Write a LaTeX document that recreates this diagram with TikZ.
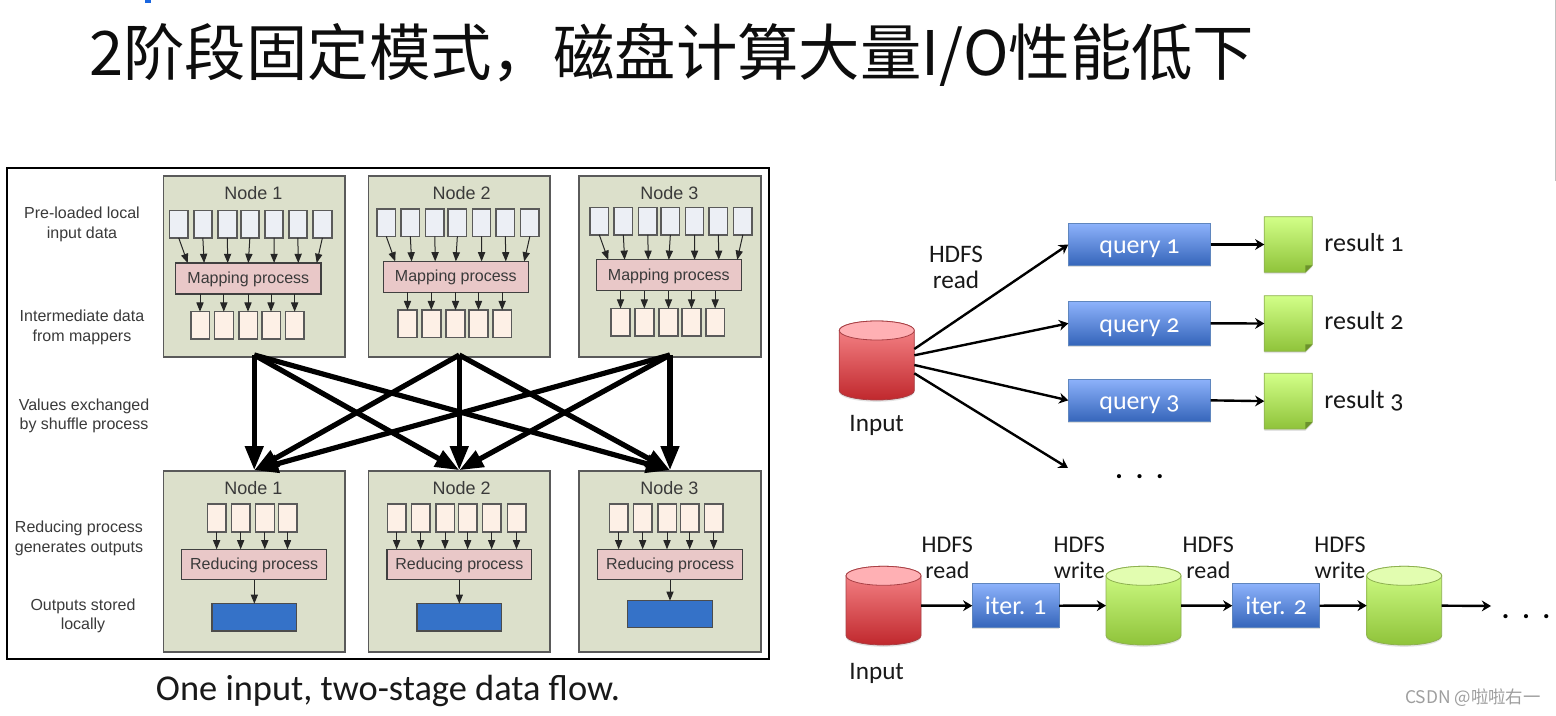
\documentclass[tikz,border=0pt]{standalone}
\usepackage{fontspec}
\usetikzlibrary{arrows.meta,shadows,calc}
\setmainfont{Liberation Sans}
\newfontfamily\corbel[Numbers=OldStyle]{Carlito}
\newfontfamily\cjk{Noto Sans CJK SC}
\definecolor{markblue}{HTML}{1A66E0}
\definecolor{panelfill}{HTML}{DCE0CB}
\definecolor{inkline}{HTML}{5A5A5A}
\definecolor{inkfill}{HTML}{ECEFF5}
\definecolor{midfill}{HTML}{FDF0E6}
\definecolor{procfill}{HTML}{E9C8C8}
\definecolor{outfill}{HTML}{3572C8}
\definecolor{labelgray}{HTML}{3A3A3A}
\definecolor{bluetop}{HTML}{8DB2FB}
\definecolor{bluebot}{HTML}{3565BA}
\definecolor{blueedge}{HTML}{5F86BE}
\definecolor{greentop}{HTML}{D2FF88}
\definecolor{greenbot}{HTML}{8FC33A}
\definecolor{greenedge}{HTML}{8DB050}
\definecolor{greencap}{HTML}{E2FDB0}
\definecolor{redtop}{HTML}{F98A8D}
\definecolor{redbot}{HTML}{C0282D}
\definecolor{redcap}{HTML}{FFB0B4}
\definecolor{rededge}{HTML}{A84045}
\tikzset{
  panel/.style={draw=inkline,fill=panelfill,line width=.6pt},
  inbox/.style={draw=inkline,fill=inkfill,line width=.8pt},
  midbox/.style={draw=inkline,fill=midfill,line width=.8pt},
  procbox/.style={draw=black!75,fill=procfill,line width=.6pt,text=labelgray,text height=4.8pt,text depth=0pt,font=\fontsize{8}{9.7}\selectfont},
  outbox/.style={draw=black!70,fill=outfill,line width=.6pt},
  sidelabel/.style={align=center,text=labelgray,font=\fontsize{8}{9.75}\selectfont,inner sep=0pt},
  nodetitle/.style={text=labelgray,font=\fontsize{9}{10}\selectfont,inner sep=0pt},
  smallarrow/.style={draw=black!85,line width=.5pt,-{Triangle[width=3.6pt,length=4.6pt]}},
  bigarrow/.style={draw=black,line width=2.6pt,-{Triangle[width=8.8pt,length=12pt]}},
  flowarrow/.style={draw=black,line width=1.2pt,-{Stealth[width=5.4pt,length=4.6pt,inset=1.5pt]}},
  taskbox/.style={draw=blueedge,line width=.4pt,top color=bluetop,bottom color=bluebot,text=white,text height=8.8pt,text depth=0pt,
     drop shadow={shadow xshift=0pt,shadow yshift=-.8pt,opacity=.25},font=\corbel\fontsize{13}{14}\selectfont},
  hollow/.style={inner sep=0pt},
  softshadow/.style={drop shadow={shadow xshift=0pt,shadow yshift=-.9pt,opacity=.22}},
  rtext/.style={inner sep=0pt,align=center,font=\corbel\fontsize{12.6}{13.4}\selectfont,text=black!90},
  rlow/.style={inner sep=0pt,align=center,font=\corbel\fontsize{12}{13.2}\selectfont,text=black!90},
  rres/.style={inner sep=0pt,font=\corbel\fontsize{13}{14}\selectfont,text=black!90},
  dotrow/.style={inner sep=0pt,font=\corbel\bfseries\fontsize{14}{14}\selectfont},
}
\newcommand{\pbox}[7]{%
  \pgfmathsetmacro\bxw{((#5)-(#3))*0.5}%
  \pgfmathsetmacro\bxh{((#6)-(#4))*0.5}%
  \pgfmathsetmacro\bxx{((#3)+(#5))/2}%
  \pgfmathsetmacro\bxy{((#4)+(#6))/2}%
  \node[#1,minimum width=\bxw pt,minimum height=\bxh pt,inner sep=0pt,outer sep=0pt] (#2) at (\bxx,\bxy) {#7};}
\newcommand{\cyl}[8]{% name x1 y1 x2 y2 top bot cap ; edge uses \cyledge
  \path[top color=#6,bottom color=#7,draw=\cyledge,line width=.4pt,softshadow]
    (#2,#3+9.5) -- (#2,#5-9.5) arc[start angle=180,end angle=360,x radius=18.75pt,y radius=4.75pt]
    -- (#4,#3+9.5) arc[start angle=0,end angle=180,x radius=18.75pt,y radius=4.75pt] -- cycle;
  \draw[fill=#8,draw=\cyledge,line width=.4pt] ({(#2+#4)/2},#3+9.5) ellipse[x radius=18.75pt,y radius=4.75pt];
  \pbox{hollow}{#1}{#2}{#3}{#4}{#5}{}}
\newcommand{\docshape}[5]{% name x1 y1 x2 y2
  \path[top color=greentop,bottom color=greenbot,draw=greenedge,line width=.4pt,softshadow]
    (#2,#3) -- (#4,#3) -- (#4,#5-7) -- (#4-7,#5) -- (#2,#5) -- cycle;
  \fill[greenbot!75!black] (#4,#5-7) -- (#4-7,#5-7) -- (#4-7,#5) -- cycle;
  \pbox{hollow}{#1}{#2}{#3}{#4}{#5}{}}
\begin{document}
\begin{tikzpicture}[x=0.5pt,y=-0.5pt]
\useasboundingbox (0,0) rectangle (1556,716);
\fill[white] (0,0) rectangle (1556,716);
% page artefacts
\fill[markblue] (145,0) rectangle (151,3);
\fill[black!25] (1554.6,0) rectangle (1556,181);
% title
\node[anchor=base west,inner sep=0pt,font=\cjk\fontsize{30.7}{33}\selectfont,text=black!95] (title) at (89,76) {2阶段固定模式，磁盘计算大量I/O性能低下};
% left frame
\pbox{draw=black,line width=1.3pt}{frame}{7}{168}{769}{659}{}
\foreach \p/\xa/\xb in {1/163.5/345,2/368.5/550,3/579/761}{
  \pbox{panel}{pt\p}{\xa}{176}{\xb}{357}{}
  \pbox{panel}{pb\p}{\xa}{471}{\xb}{652}{}
}
\node[nodetitle] (tt1) at (253.3,193) {Node 1};
\node[nodetitle] (tt2) at (461.7,193) {Node 2};
\node[nodetitle] (tt3) at (669.3,193) {Node 3};
\node[nodetitle] (bt1) at (253.3,488) {Node 1};
\node[nodetitle] (bt2) at (461.7,488) {Node 2};
\node[nodetitle] (bt3) at (669.3,488) {Node 3};
% map side
\foreach \p/\dx/\dy in {1/0/0,2/207.5/-1.6,3/420.5/-3.2}{
  \foreach \i/\a/\b in {1/169.5/188,2/193.7/212,3/218/236.7,4/240.7/259,5/265/283,6/288.7/307,7/313/331.7}{
    \pbox{inbox}{n\p i\i}{\a+\dx}{210.7+\dy}{\b+\dx}{238+\dy}{}
  }
  \pbox{procbox}{n\p m}{175.7+\dx}{263+\dy}{321+\dx}{294+\dy}{Mapping process}
  \foreach \i/\a/\b in {1/190.7/209.3,2/214.3/233.3,3/238.7/257.3,4/261.7/280.3,5/285.3/304}{
    \pbox{midbox}{n\p o\i}{\a+\dx}{311.7+\dy}{\b+\dx}{339+\dy}{}
    \draw[smallarrow] (n\p m.south -| n\p o\i.north) -- (n\p o\i.north);
  }
  \foreach \i/\e in {1/6,2/14.2,3/26,4/36.3,5/49.2,6/61.3,7/70.5}{
    \draw[smallarrow] (n\p i\i.south) -- ([xshift=\e pt]n\p m.north west);
  }
}
% reduce side
\foreach \i/\a/\b in {1/207.3/226,2/231.3/250,3/255.3/274.3,4/278.3/296.7}{
  \pbox{midbox}{r1i\i}{\a}{504}{\b}{531.7}{}
}
\foreach \i/\a/\b in {1/387.3/406,2/411.3/430,3/435.7/454.3,4/458.3/477,5/482.3/501,6/507.3/525.7}{
  \pbox{midbox}{r2i\i}{\a}{504}{\b}{531.7}{}
}
\foreach \i/\a/\b in {1/609.3/628,2/633.3/652,3/657.7/676.3,4/680.3/699,5/704.3/723}{
  \pbox{midbox}{r3i\i}{\a}{504}{\b}{531.7}{}
}
\pbox{procbox}{r1p}{181.7}{549.3}{326.7}{579.7}{Reducing process}
\pbox{procbox}{r2p}{387}{549.3}{531.7}{579.7}{Reducing process}
\pbox{procbox}{r3p}{597.7}{549.3}{742.7}{579.7}{Reducing process}
\pbox{outbox}{r1o}{212}{603.7}{296.7}{631}{}
\pbox{outbox}{r2o}{417}{603.7}{501.7}{631}{}
\pbox{outbox}{r3o}{627.7}{600.7}{712.3}{627.7}{}
\foreach \i in {1,...,4}{\draw[smallarrow] (r1i\i.south) -- (r1i\i.south |- r1p.north);}
\foreach \i in {1,...,6}{\draw[smallarrow] (r2i\i.south) -- (r2i\i.south |- r2p.north);}
\foreach \i in {1,...,5}{\draw[smallarrow] (r3i\i.south) -- (r3i\i.south |- r3p.north);}
\foreach \p in {1,2,3}{\draw[smallarrow] (r\p p.south -| r\p o.north) -- (r\p o.north);}
% shuffle
\foreach \s in {1,2,3}{
  \foreach \t in {1,2,3}{
    \draw[bigarrow] ([yshift=1pt]pt\s.south) -- ([yshift=.4pt]pb\t.north);
  }
}
% left labels
\node[sidelabel] (l1) at (82,224.5) {Pre-loaded local\\input data};
\node[sidelabel] (l2) at (82,327.5) {Intermediate data\\from mappers};
\node[sidelabel] (l3) at (84,416) {Values exchanged\\by shuffle process};
\node[sidelabel] (l4) at (79,538.5) {Reducing process\\generates outputs};
\node[sidelabel] (l5) at (83,616) {Outputs stored\\locally};
\node[inner sep=0pt,font=\corbel\fontsize{18.2}{20}\selectfont,text=black!90] (cap) at (388,691) {One input, two-stage data flow.};
% right top
\def\cyledge{rededge}
\cyl{c0}{839.3}{321}{914.3}{400}{redtop}{redbot}{redcap}
\node[rtext] (c0l) at (876.7,425) {Input};
\pbox{taskbox}{q1}{1068.3}{223.3}{1210.7}{265.7}{query 1}
\pbox{taskbox}{q2}{1068.3}{301.7}{1210.7}{345}{query 2}
\pbox{taskbox}{q3}{1068.3}{379}{1210.7}{421.7}{query 3}
\docshape{d1}{1264.3}{216.7}{1312.3}{272.3}
\docshape{d2}{1264.3}{295.7}{1312.3}{351.3}
\docshape{d3}{1264.3}{373.3}{1312.3}{429}
\coordinate (q4) at (1068,468);
\draw[flowarrow] ([yshift=5.75pt]c0.east) -- (q1.west);
\draw[flowarrow] ([yshift=2.6pt]c0.east) -- (q2.west);
\draw[flowarrow] ([yshift=-2.25pt]c0.east) -- (q3.west);
\draw[flowarrow] ([yshift=-6.4pt]c0.east) -- (q4);
\foreach \i in {1,2,3}{\draw[flowarrow] (q\i.east) -- (d\i.west);}
\node[rres,anchor=base west] (r1) at (1324,251.7) {result 1};
\node[rres,anchor=base west] (r2) at (1324,329.3) {result 2};
\node[rres,anchor=base west] (r3) at (1324,408) {result 3};
\node[rtext] (hr) at (956,267.5) {HDFS\\read};
\node[dotrow] (dots1) at (1139.5,477) {.\kern 6.5pt.\kern 6.5pt.};
% right bottom
\cyl{c1}{846}{566.3}{921}{645}{redtop}{redbot}{redcap}
\node[rtext] (c1l) at (876.7,673) {Input};
\pbox{taskbox}{it1}{972.3}{583.7}{1059}{627.7}{iter. 1}
\def\cyledge{greenedge}
\cyl{c2}{1106}{566.3}{1181}{645}{greentop}{greenbot}{greencap}
\pbox{taskbox}{it2}{1232.3}{583.7}{1319.7}{627.7}{iter. 2}
\cyl{c3}{1366.7}{566.3}{1441.7}{645}{greentop}{greenbot}{greencap}
\coordinate (endp) at (1491,606);
\draw[flowarrow] (c1.east) -- (it1.west);
\draw[flowarrow] (it1.east) -- (c2.west);
\draw[flowarrow] (c2.east) -- (it2.west);
\draw[flowarrow] (it2.east) -- (c3.west);
\draw[flowarrow] (c3.east) -- (endp);
\node[rlow] (h1) at (947.3,557.5) {HDFS\\read};
\node[rlow] (h2) at (1079.3,557.5) {HDFS\\write};
\node[rlow] (h3) at (1208.3,557.5) {HDFS\\read};
\node[rlow] (h4) at (1340,557.5) {HDFS\\write};
\node[dotrow] (dots2) at (1526,617) {.\kern 6.5pt.\kern 6.5pt.};
\node[inner sep=0pt,anchor=east,font=\cjk\fontsize{8.7}{10}\selectfont,text=black!38] (mark) at (1541,698) {CSDN @啦啦右一};
\end{tikzpicture}
\end{document}
